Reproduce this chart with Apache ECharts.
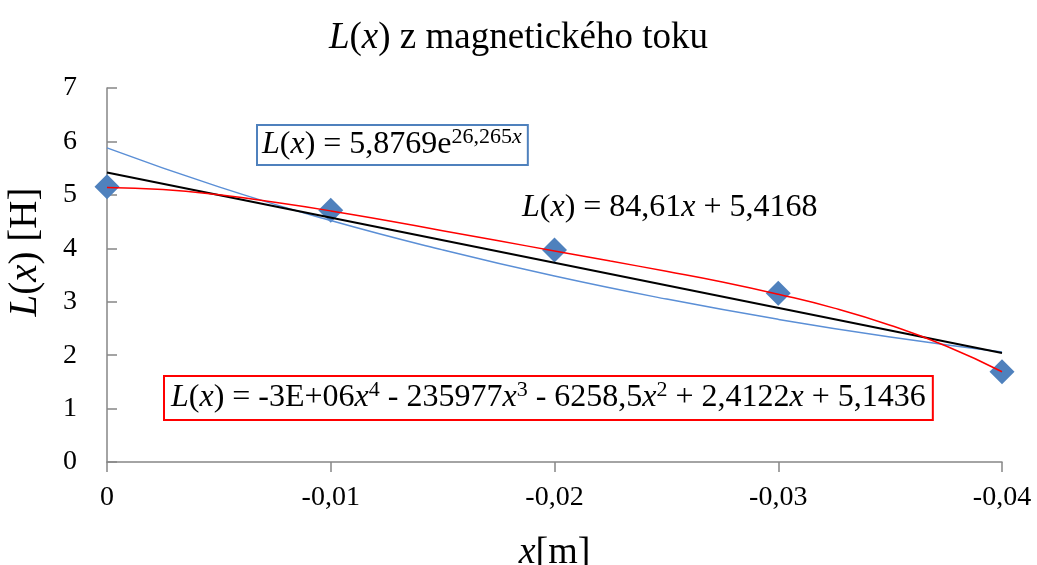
<!DOCTYPE html>
<html>
<head>
<meta charset="utf-8">
<script src="https://cdn.jsdelivr.net/npm/echarts@6/dist/echarts.min.js"></script>
<style>html,body{margin:0;padding:0;background:#fff}#c{width:1037px;height:565px}</style>
</head>
<body>
<div id="c"></div>
<script>
// measured points
const xPoints = [0, -0.01, -0.02, -0.03, -0.04];
const lValues = [5.15, 4.71, 3.97, 3.16, 1.69];
// linear trendline (black)
const linX = [0, -0.04];
const linY = [5.42, 2.04];
// exponential trendline (blue)
const expX = [0, -0.005, -0.01, -0.015, -0.02, -0.025, -0.03, -0.035, -0.04];
const expY = [5.88, 5.15, 4.52, 3.97, 3.48, 3.05, 2.67, 2.34, 2.06];
// polynomial trendline (red)
const polyX = [0, -0.0025, -0.005, -0.0075, -0.01, -0.0125, -0.015, -0.0175, -0.02, -0.0225, -0.025, -0.0275, -0.03, -0.0325, -0.035, -0.0375, -0.04];
const polyY = [5.14, 5.10, 5.00, 4.86, 4.70, 4.52, 4.33, 4.14, 3.95, 3.76, 3.57, 3.37, 3.14, 2.88, 2.56, 2.17, 1.69];
// axis ticks
const xTicks = [0, -0.01, -0.02, -0.03, -0.04];
const yTicks = [0, 1, 2, 3, 4, 5, 6, 7];

const F = 'Liberation Serif, Times New Roman, serif';
const zip = (a, b) => a.map((v, i) => [v, b[i]]);
const fmtX = v => Math.abs(v) < 1e-9 ? '0' : v.toFixed(2).replace('.', ',');

const chart = echarts.init(document.getElementById('c'));
const richBase = (size) => ({
  i: { fontStyle: 'italic', fontFamily: F, fontSize: size, color: '#000' },
  n: { fontFamily: F, fontSize: size, color: '#000' }
});
const eqRich = {
  i: { fontStyle: 'italic', fontFamily: F, fontSize: 32, color: '#000', lineHeight: 38 },
  n: { fontFamily: F, fontSize: 32, color: '#000', lineHeight: 38 },
  s: { fontFamily: F, fontSize: 22, color: '#000', verticalAlign: 'top', lineHeight: 22 },
  si: { fontFamily: F, fontStyle: 'italic', fontSize: 22, color: '#000', verticalAlign: 'top', lineHeight: 22 }
};

chart.setOption({
  animation: false,
  backgroundColor: '#fff',
  title: {
    text: '{i|L}{n|(}{i|x}{n|) z magnetického toku}',
    left: 'center',
    top: 15,
    textStyle: { fontFamily: F, fontSize: 37, fontWeight: 'normal', color: '#000', rich: richBase(37) }
  },
  grid: { left: 107, right: 35, top: 88, bottom: 103, containLabel: false, outerBoundsMode: 'none' },
  xAxis: {
    type: 'value',
    min: Math.min(...xTicks),
    max: Math.max(...xTicks),
    interval: 0.01,
    inverse: true,
    splitLine: { show: false },
    axisLine: { lineStyle: { color: '#868686', width: 1.5 } },
    axisTick: { show: true, inside: false, length: 10, lineStyle: { color: '#868686', width: 1.5 } },
    axisLabel: { formatter: fmtX, fontFamily: F, fontSize: 28, color: '#000', margin: 22 },
    name: '{i|x}{n|[m]}',
    nameLocation: 'middle',
    nameGap: 72,
    nameTextStyle: { fontFamily: F, fontSize: 38, color: '#000', rich: richBase(38) }
  },
  yAxis: {
    type: 'value',
    min: yTicks[0],
    max: yTicks[yTicks.length - 1],
    interval: 1,
    splitLine: { show: false },
    axisLine: { show: true, lineStyle: { color: '#868686', width: 1.5 } },
    axisTick: { show: true, inside: true, length: 10, lineStyle: { color: '#868686', width: 1.5 } },
    axisLabel: { fontFamily: F, fontSize: 28, color: '#000', margin: 30 },
    name: '{i|L}{n|(}{i|x}{n|) [H]}',
    nameLocation: 'middle',
    nameRotate: 90,
    nameGap: 62,
    nameTextStyle: { fontFamily: F, fontSize: 39, color: '#000', rich: richBase(39), padding: [0, 0, 0, 46] }
  },
  series: [
    {
      name: 'L(x)', type: 'scatter', symbol: 'diamond', symbolSize: 25,
      itemStyle: { color: '#4F81BD', opacity: 1 }, z: 2,
      data: zip(xPoints, lValues)
    },
    {
      name: 'exp', type: 'line', smooth: true, showSymbol: false, z: 3,
      lineStyle: { color: '#5B8FD6', width: 1.5 },
      data: zip(expX, expY)
    },
    {
      name: 'lin', type: 'line', showSymbol: false, z: 4,
      lineStyle: { color: '#000', width: 2 },
      data: zip(linX, linY)
    },
    {
      name: 'poly', type: 'line', smooth: true, showSymbol: false, z: 5,
      lineStyle: { color: '#FF0000', width: 1.5 },
      data: zip(polyX, polyY)
    }
  ],
  graphic: [
    {
      type: 'text', left: 256, top: 124, z: 10,
      style: {
        text: '{i|L}{n|(}{i|x}{n|) = 5,8769e}{s|26,265}{si|x}',
        rich: eqRich, backgroundColor: '#fff',
        borderColor: '#4F81BD', borderWidth: 2, padding: [0, 5, 0, 4]
      }
    },
    {
      type: 'text', left: 522, top: 192, z: 10,
      style: {
        text: '{i|L}{n|(}{i|x}{n|) = 84,61}{i|x}{n| + 5,4168}',
        rich: eqRich
      }
    },
    {
      type: 'text', left: 163, top: 375, z: 10,
      style: {
        text: '{i|L}{n|(}{i|x}{n|) = -3E+06}{i|x}{s|4}{n| - 235977}{i|x}{s|3}{n| - 6258,5}{i|x}{s|2}{n| + 2,4122}{i|x}{n| + 5,1436}',
        rich: eqRich, backgroundColor: '#fff',
        borderColor: '#FF0000', borderWidth: 2, padding: [2, 6, 2, 6]
      }
    }
  ]
});
</script>
</body>
</html>
